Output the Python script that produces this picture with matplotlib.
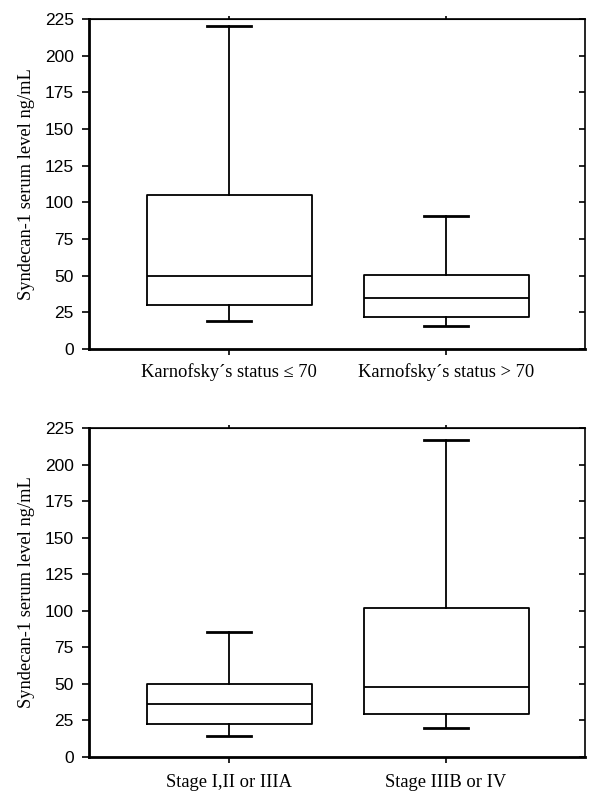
import matplotlib
matplotlib.use("Agg")
import matplotlib.pyplot as plt

# Data
top_labels = ["Karnofsky\u00b4s status \u2264 70", "Karnofsky\u00b4s status > 70"]
top_whislo = [19, 15.5]
top_q1 = [30, 21.5]
top_med = [50, 34.5]
top_q3 = [105, 50.5]
top_whishi = [220, 91]

bot_labels = ["Stage I,II or IIIA", "Stage IIIB or IV"]
bot_whislo = [14.5, 20]
bot_q1 = [22.5, 29.5]
bot_med = [36.5, 48]
bot_q3 = [50, 102]
bot_whishi = [85.5, 216.5]

yticks = [0, 25, 50, 75, 100, 125, 150, 175, 200, 225]
ylabel = "Syndecan-1 serum level ng/mL"

fig = plt.figure(figsize=(5.91, 7.92), dpi=100)
serif = ["Liberation Serif", "DejaVu Serif"]
sans = ["Liberation Sans", "DejaVu Sans"]


def make_panel(rect, labels, wlo, q1, med, q3, whi, xpad):
    ax = fig.add_axes(rect)
    stats = []
    for i in range(len(labels)):
        stats.append(dict(whislo=wlo[i], q1=q1[i], med=med[i], q3=q3[i],
                          whishi=whi[i], fliers=[], label=labels[i]))
    ax.bxp(stats, positions=[1, 2], widths=0.76, showfliers=False,
           boxprops=dict(color="black", linewidth=1.3),
           medianprops=dict(color="black", linewidth=1.3),
           whiskerprops=dict(color="black", linewidth=1.3),
           capprops=dict(color="black", linewidth=2.0),
           capwidths=0.2)
    ax.set_xlim(0.355, 2.64)
    ax.set_ylim(0, 225)
    ax.set_yticks(yticks)
    ax.set_yticklabels([str(t) for t in yticks], family=sans, fontsize=12.5)
    ax.set_xticks([1, 2])
    ax.set_xticklabels(labels, family=serif, fontsize=13.3)
    ax.set_ylabel(ylabel, family=serif, fontsize=13.3, labelpad=7)
    ax.tick_params(axis="y", direction="out", length=5, width=1.2, pad=6)
    ax.tick_params(axis="x", direction="out", length=4, width=1.2, pad=xpad)
    for s in ["left", "bottom"]:
        ax.spines[s].set_linewidth(2.0)
    for s in ["top", "right"]:
        ax.spines[s].set_linewidth(1.2)
    # small marks above the top spine at category positions
    axt = ax.secondary_xaxis("top")
    axt.set_xticks([1, 2])
    axt.set_xticklabels([])
    axt.tick_params(direction="out", length=2, width=1.2)
    ax2 = ax.twinx()
    ax2.set_ylim(0, 225)
    ax2.set_yticks(yticks)
    ax2.set_yticklabels([])
    ax2.tick_params(axis="y", direction="in", length=4, width=1.2)
    for s in ax2.spines.values():
        s.set_visible(False)
    return ax


make_panel([0.1506, 0.5593, 0.8393, 0.4167], top_labels,
           top_whislo, top_q1, top_med, top_q3, top_whishi, 6)
make_panel([0.1506, 0.0442, 0.8393, 0.4154], bot_labels,
           bot_whislo, bot_q1, bot_med, bot_q3, bot_whishi, 8)

fig.savefig("out.png", dpi=100, facecolor="white")
